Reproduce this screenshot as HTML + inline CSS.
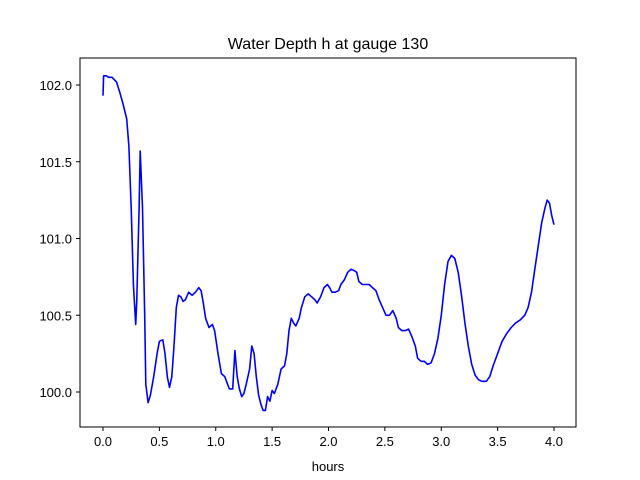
<!DOCTYPE html>
<html><head><meta charset="utf-8"><style>
html,body{margin:0;padding:0;background:#fff;}
svg{display:block;font-family:"Liberation Sans","DejaVu Sans",sans-serif;}
</style></head><body>
<svg id="chart" width="640" height="480" viewBox="0 0 640 480" xmlns="http://www.w3.org/2000/svg">
<rect x="0" y="0" width="640" height="480" fill="#fff"/>
<text x="328" y="49" text-anchor="middle" font-size="16">Water Depth h at gauge 130</text>
<text x="328" y="471" text-anchor="middle" font-size="13">hours</text>
<g id="ticks"></g>
<path id="series" fill="none" stroke="#0000ff" stroke-width="1.6" stroke-linejoin="round"/>
<rect x="80" y="58" width="496" height="369" fill="none" stroke="#000" stroke-width="1"/>
</svg>
<script>
const hours=[0,0.005,0.03,0.05,0.08,0.12,0.15,0.18,0.21,0.23,0.25,0.27,0.29,0.30,0.32,0.33,0.35,0.37,0.38,0.40,0.42,0.45,0.48,0.50,0.53,0.55,0.57,0.59,0.61,0.63,0.65,0.67,0.69,0.71,0.73,0.76,0.79,0.82,0.85,0.87,0.89,0.91,0.94,0.97,0.99,1.02,1.05,1.08,1.12,1.15,1.17,1.19,1.21,1.23,1.25,1.27,1.30,1.32,1.34,1.36,1.38,1.40,1.42,1.44,1.46,1.48,1.50,1.52,1.55,1.58,1.61,1.63,1.65,1.67,1.69,1.71,1.74,1.76,1.79,1.82,1.85,1.88,1.90,1.93,1.96,1.99,2.01,2.03,2.06,2.09,2.11,2.14,2.17,2.20,2.23,2.25,2.27,2.30,2.33,2.36,2.39,2.42,2.45,2.48,2.51,2.54,2.57,2.60,2.62,2.65,2.68,2.71,2.74,2.77,2.79,2.82,2.85,2.88,2.91,2.94,2.97,3.00,3.03,3.06,3.09,3.12,3.15,3.18,3.21,3.24,3.27,3.30,3.33,3.36,3.40,3.43,3.46,3.50,3.54,3.58,3.62,3.66,3.70,3.74,3.77,3.80,3.83,3.86,3.89,3.92,3.94,3.96,3.98,4.00];
const depth=[101.93,102.06,102.06,102.05,102.05,102.02,101.95,101.87,101.78,101.6,101.2,100.7,100.44,100.6,101.2,101.57,101.2,100.5,100.05,99.93,99.98,100.1,100.25,100.33,100.34,100.25,100.1,100.03,100.1,100.3,100.55,100.63,100.62,100.59,100.6,100.65,100.63,100.65,100.68,100.66,100.58,100.48,100.42,100.44,100.4,100.25,100.12,100.1,100.02,100.02,100.27,100.1,100.02,99.97,99.99,100.05,100.15,100.3,100.25,100.1,99.98,99.92,99.88,99.88,99.97,99.94,100.01,99.99,100.05,100.15,100.17,100.25,100.4,100.48,100.45,100.43,100.48,100.55,100.62,100.64,100.62,100.6,100.58,100.62,100.68,100.7,100.68,100.65,100.65,100.66,100.7,100.73,100.78,100.8,100.79,100.78,100.72,100.7,100.7,100.7,100.68,100.66,100.6,100.55,100.5,100.5,100.53,100.48,100.42,100.4,100.4,100.41,100.36,100.3,100.22,100.2,100.2,100.18,100.19,100.25,100.35,100.5,100.7,100.85,100.89,100.87,100.78,100.63,100.45,100.3,100.18,100.11,100.08,100.07,100.07,100.1,100.17,100.25,100.33,100.38,100.42,100.45,100.47,100.5,100.55,100.65,100.8,100.95,101.1,101.2,101.25,101.23,101.15,101.09];
const xTicks=[0,0.5,1,1.5,2,2.5,3,3.5,4];
const xTickLabels=["0.0","0.5","1.0","1.5","2.0","2.5","3.0","3.5","4.0"];
const yTicks=[100,100.5,101,101.5,102];
const yTickLabels=["100.0","100.5","101.0","101.5","102.0"];

function xs(v){return 103+v*112.75;}
function ys(v){return 392-(v-100)*153.5;}

const NS="http://www.w3.org/2000/svg";
const g=document.getElementById('ticks');
xTicks.forEach((t,i)=>{
  const l=document.createElementNS(NS,'line');
  
  
  l.setAttribute('x1',xs(t));l.setAttribute('x2',xs(t));l.setAttribute('y1',427);l.setAttribute('y2',431);l.setAttribute('stroke','#000');
  g.appendChild(l);
  const tx=document.createElementNS(NS,'text');
  
  
  tx.setAttribute('x',xs(t));tx.setAttribute('y',446);tx.setAttribute('text-anchor','middle');tx.setAttribute('font-size','13');
  tx.textContent=xTickLabels[i];g.appendChild(tx);
});
yTicks.forEach((t,i)=>{
  const l=document.createElementNS(NS,'line');
  
  
  l.setAttribute('x1',76);l.setAttribute('x2',80);l.setAttribute('y1',ys(t));l.setAttribute('y2',ys(t));l.setAttribute('stroke','#000');
  g.appendChild(l);
  const tx=document.createElementNS(NS,'text');
  
  
  tx.setAttribute('x',72);tx.setAttribute('y',ys(t)+5);tx.setAttribute('text-anchor','end');tx.setAttribute('font-size','13');
  tx.textContent=yTickLabels[i];g.appendChild(tx);
});
let d='';
hours.forEach((h,i)=>{d+=(i?'L':'M')+xs(h).toFixed(1)+' '+ys(depth[i]).toFixed(1);});
document.getElementById('series').setAttribute('d',d);
</script>
</body></html>
